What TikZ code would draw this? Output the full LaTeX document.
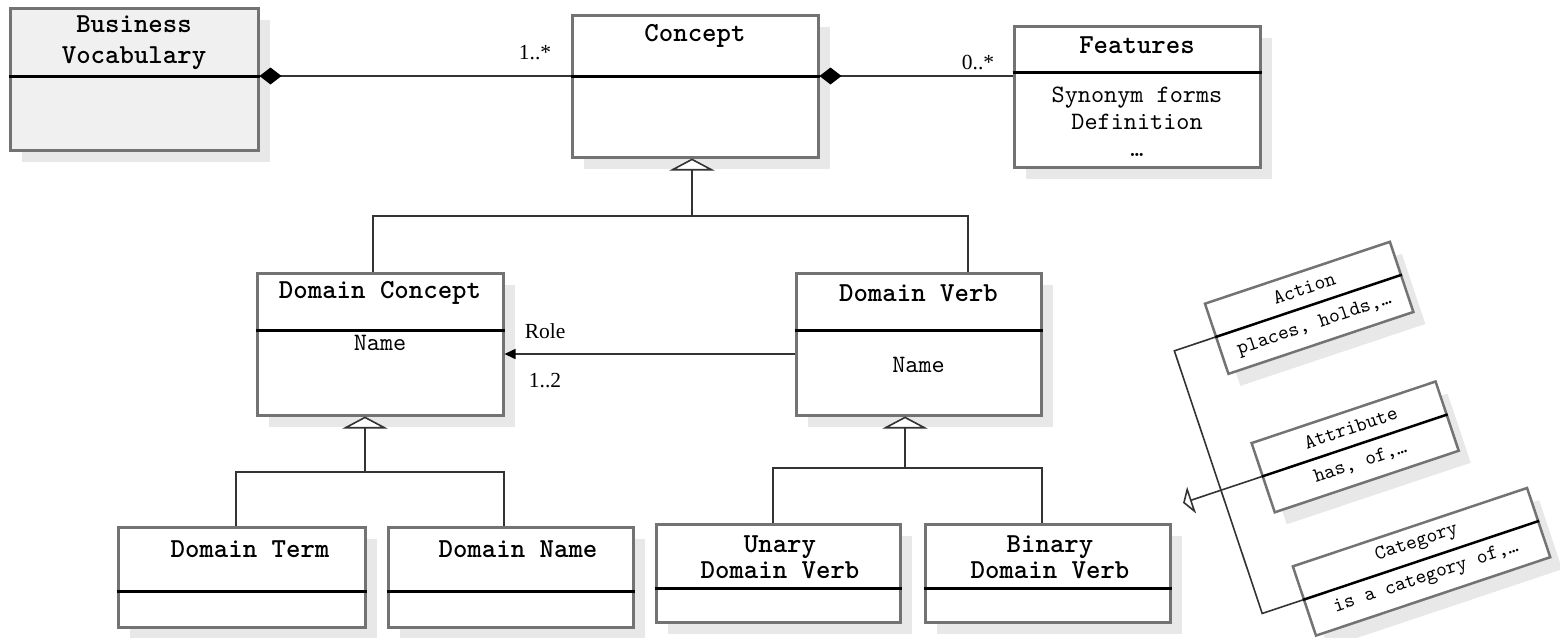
\documentclass[tikz,border=0pt]{standalone}
\usepackage{fontspec}
\usetikzlibrary{arrows.meta,shadows}

\newfontfamily\umlfont{lmmono10-regular.otf}[BoldFont=lmmonolt10-bold.otf]
\newfontfamily\multfont{Liberation Serif}

\definecolor{boxline}{HTML}{737373}
\definecolor{boxshadow}{HTML}{E8E8E8}
\definecolor{boxfill}{HTML}{F0F0F0}
\definecolor{linkline}{HTML}{333333}

\begin{document}
\begin{tikzpicture}[x=1pt,y=-1pt,
  class node/.style={rectangle,draw=boxline,line width=3pt,fill=white,inner sep=0pt,
    drop shadow={shadow xshift=12pt,shadow yshift=-12pt,fill=boxshadow,opacity=1}},
  head text/.style={font=\umlfont\bfseries\fontsize{27.5}{31}\selectfont,align=center,inner sep=0pt},
  item text/.style={font=\umlfont\fontsize{25}{27}\selectfont,align=center,inner sep=0pt},
  tag text/.style={font=\umlfont\fontsize{20.5}{22}\selectfont,inner sep=0pt},
  mult text/.style={font=\multfont\fontsize{21.5}{24}\selectfont,inner sep=0pt},
  divider/.style={line width=3pt,black},
  link/.style={line width=1.6pt,draw=linkline},
  inherit/.style={link,-{Triangle[width=45pt,length=12pt,fill=white]}}]

  \useasboundingbox (0,0) rectangle (1560,637);

  % class boxes
  \node[class node,fill=boxfill,minimum width=248pt,minimum height=142pt] at (134,79) (1) {};
  \node[class node,minimum width=246pt,minimum height=142pt] at (695,86) (2) {};
  \node[class node,minimum width=246pt,minimum height=141pt] at (1137,96.5) (3) {};
  \node[class node,minimum width=246pt,minimum height=142pt] at (380,344) (4) {};
  \node[class node,minimum width=245pt,minimum height=142pt] at (918.5,344) (5) {};
  \node[class node,minimum width=247pt,minimum height=100pt] at (241.5,577) (6) {};
  \node[class node,minimum width=245pt,minimum height=100pt] at (510.5,577) (7) {};
  \node[class node,minimum width=244pt,minimum height=98pt] at (778,573) (8) {};
  \node[class node,minimum width=245pt,minimum height=98pt] at (1047.5,573) (9) {};

  \draw[divider] (1.west |- 0,76) -- (1.east |- 0,76);
  \draw[divider] (2.west |- 0,76) -- (2.east |- 0,76);
  \draw[divider] (3.west |- 0,72) -- (3.east |- 0,72);
  \foreach \n in {4,5} \draw[divider] (\n.west |- 0,330) -- (\n.east |- 0,330);
  \foreach \n in {6,7} \draw[divider] (\n.west |- 0,591) -- (\n.east |- 0,591);
  \foreach \n in {8,9} \draw[divider] (\n.west |- 0,588) -- (\n.east |- 0,588);

  \node[head text] at (134,42.5) (1t) {Business\\Vocabulary};
  \node[head text] at (695,36) (2t) {Concept};
  \node[head text] at (1137,45) (3t) {Features};
  \node[item text] at (1137,122) (3i) {Synonym forms\\Definition\\…};
  \node[head text] at (380,293) (4t) {Domain Concept};
  \node[item text] at (380,343) (4i) {Name};
  \node[head text] at (918.5,293) (5t) {Domain Verb};
  \node[item text] at (918.5,365) (5i) {Name};
  \node[head text] at (250,549) (6t) {Domain Term};
  \node[head text] at (518,549) (7t) {Domain Name};
  \node[head text] at (780,557) (8t) {Unary\\[-5pt]Domain Verb};
  \node[head text] at (1050,557) (9t) {Binary\\[-5pt]Domain Verb};

  % associations
  \node[mult text] at (535,53) (m1) {1..*};
  \node[mult text] at (978,63) (m2) {0..*};
  \draw[link,{Diamond[width=17pt,length=22pt,color=black]}-] (1.east |- 0,76) -- (2.west |- 0,76);
  \draw[link,{Diamond[width=17pt,length=22pt,color=black]}-] (2.east |- 0,76) -- (3.west |- 0,76);
  \draw[link,-{Triangle[width=10pt,length=11pt,color=black]}] ([yshift=-10pt]5.west)
    -- node[mult text,pos=0.86,above=14pt] (r1) {Role}
       node[mult text,pos=0.86,below=18pt] (r2) {1..2} ([yshift=-10pt]4.east);

  % generalisations
  \coordinate (g1) at (692,216);
  \coordinate (g2) at (365,472);
  \coordinate (g3) at (905,468);
  \draw[inherit] (g1) -- (2.south -| g1);
  \draw[link] (4.north -| 373,0) |- (g1) -| (5.north -| 968,0);
  \draw[inherit] (g2) -- (4.south -| g2);
  \draw[link] (6.north -| 236,0) |- (g2) -| (7.north -| 504,0);
  \draw[inherit] (g3) -- (5.south -| g3);
  \draw[link] (8.north -| 773,0) |- (g3) -| (9.north -| 1042,0);

  % tilted verb kinds
  \begin{scope}[shift={(1204,304)},rotate=18.5,transform shape]
    \node[class node,line width=2.5pt,minimum width=195pt,minimum height=74pt] at (98.5,37) (10) {};
    \node[class node,line width=2.5pt,minimum width=194pt,minimum height=73pt] at (98,183.5) (11) {};
    \node[class node,line width=2.5pt,minimum width=247pt,minimum height=73pt] at (124.5,313.5) (12) {};
    \draw[divider,line width=2.5pt] (0,35) coordinate (d10) -- (197,35);
    \draw[divider,line width=2.5pt] (0,182) coordinate (d11) -- (196,182);
    \draw[divider,line width=2.5pt] (0,312) coordinate (d12) -- (249,312);
    \node[tag text] at (100,17) (10t) {Action};
    \node[tag text] at (98,55) (10i) {places, holds,…};
    \node[tag text] at (100,164) (11t) {Attribute};
    \node[tag text] at (98,200) (11i) {has, of,…};
    \node[tag text] at (126,294) (12t) {Category};
    \node[tag text] at (124,330) (12i) {is a category of,…};
    \coordinate (t1) at (-43,35);
    \coordinate (t2) at (-43,312);
    \coordinate (tip) at (-83,182);
    \draw[link] (d10) -- (t1) -- (t2) -- (d12);
    \draw[link,-{Triangle[width=28pt,length=9pt,fill=white]}] (d11) -- (tip);
  \end{scope}
\end{tikzpicture}
\end{document}
